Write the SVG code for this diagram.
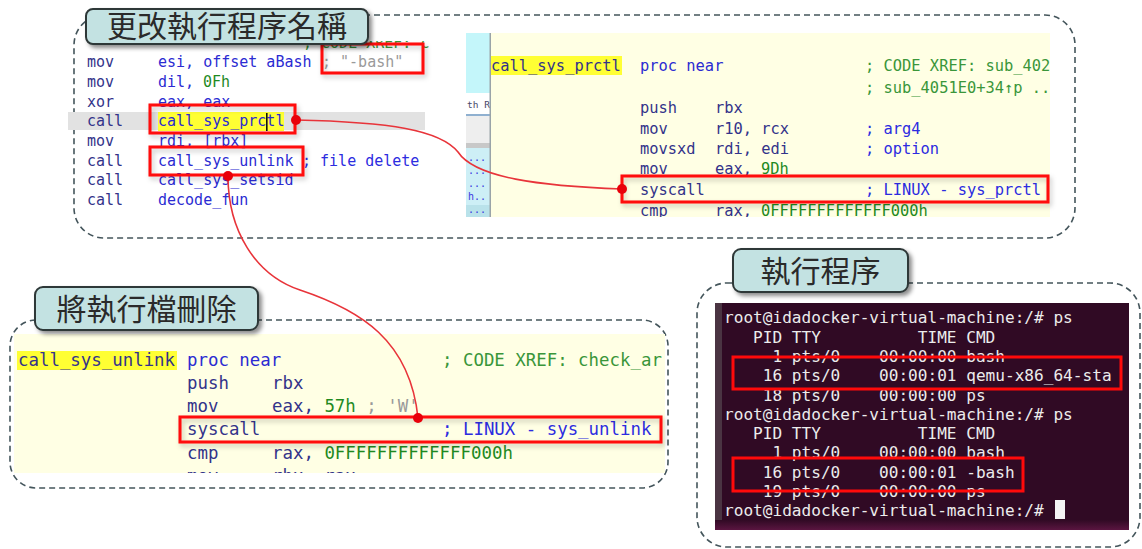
<svg xmlns="http://www.w3.org/2000/svg" width="1142" height="549" viewBox="0 0 1142 549">
  <defs>
    <style>
      .frame{fill:none;stroke:#44555b;stroke-width:1.6;stroke-dasharray:6 4}
      .title-box{fill:#c3e2e2;stroke:#2e3838;stroke-width:2}
      .title{font-family:"Noto Sans CJK TC","Noto Sans CJK SC",sans-serif;font-size:30px;fill:#2a2a2a;text-anchor:middle}
      .code{font-family:"DejaVu Sans Mono","Liberation Mono",monospace}
      .s15{font-size:15px}
      .s154{font-size:15.4px}
      .s174{font-size:17.4px}
      .ins{fill:#33338a}
      .op{fill:#2b2bd2}
      .num{fill:#1f8a1f}
      .cmt{fill:#3a963a}
      .acm{fill:#2c2ce0}
      .str{fill:#9a9a9a}
      .hl{fill:#ffff33}
      .mark{fill:none;stroke:#ff0a0a;stroke-width:3}
      .link{fill:none;stroke:#e8343a;stroke-width:1.6}
      .dot{fill:#e8000a}
      .term{font-family:"DejaVu Sans Mono",monospace;font-size:16.1px;fill:#ececec}
      .tiny{font-family:"DejaVu Sans Mono",monospace;font-size:10px;fill:#3a3ae0}
    </style>
    <filter id="shadow" x="-10%" y="-20%" width="130%" height="160%">
      <feDropShadow dx="3" dy="3" stdDeviation="2" flood-color="#000" flood-opacity="0.45"/>
    </filter>
    <filter id="soft" x="-5%" y="-30%" width="115%" height="180%">
      <feDropShadow dx="2" dy="3" stdDeviation="2.5" flood-color="#000" flood-opacity="0.22"/>
    </filter>
    <clipPath id="clip-caller"><rect x="60" y="41" width="380" height="178"/></clipPath>
    <clipPath id="clip-prctl"><rect x="466" y="33" width="584" height="184"/></clipPath>
    <clipPath id="clip-unlink"><rect x="14" y="334" width="651" height="139"/></clipPath>
    <linearGradient id="term-foot" x1="0" y1="0" x2="0" y2="1">
      <stop offset="0" stop-color="#300a24"/>
      <stop offset="1" stop-color="#5a1540"/>
    </linearGradient>
  </defs>

  <!-- dashed group frames -->
  <g id="frames">
    <rect class="frame" x="74" y="15" width="1001" height="223" rx="30"/>
    <rect class="frame" x="10" y="320" width="658" height="168" rx="26"/>
    <rect class="frame" x="697" y="283" width="443" height="264" rx="30"/>
  </g>

  <!-- caller listing -->
  <g id="caller-listing" class="code s15">
    <rect x="68" y="112" width="357" height="18" fill="#e2e2e2"/>
    <rect class="hl" x="158" y="112" width="126" height="19"/>
    <g clip-path="url(#clip-caller)">
      <text x="303" y="48" class="cmt">; CODE XREF: c</text>
      <text y="67"><tspan x="87" class="ins">mov</tspan><tspan x="158" class="op">esi, offset aBash</tspan><tspan x="322" class="str">; "-bash"</tspan></text>
      <text y="87"><tspan x="87" class="ins">mov</tspan><tspan x="158" class="op">dil,</tspan><tspan x="203" class="num">0Fh</tspan></text>
      <text y="106.5"><tspan x="87" class="ins">xor</tspan><tspan x="158" class="op">eax, eax</tspan></text>
      <text y="126"><tspan x="87" class="ins">call</tspan><tspan x="158" class="op">call_sys_prctl</tspan></text>
      <text y="146"><tspan x="87" class="ins">mov</tspan><tspan x="158" class="op">rdi, [rbx]</tspan></text>
      <text y="165.5"><tspan x="87" class="ins">call</tspan><tspan x="158" class="op">call_sys_unlink</tspan><tspan x="302" class="acm">; file delete</tspan></text>
      <text y="185"><tspan x="87" class="ins">call</tspan><tspan x="158" class="op">call_sys_setsid</tspan></text>
      <text y="205"><tspan x="87" class="ins">call</tspan><tspan x="158" class="op">decode_fun</tspan></text>
    </g>
    <rect x="266" y="113" width="1.6" height="18" fill="#111"/>
    <g filter="url(#soft)">
      <rect class="mark" x="322" y="44" width="101" height="29"/>
      <rect class="mark" x="150" y="105" width="145" height="28"/>
      <rect class="mark" x="150" y="147" width="153" height="28"/>
    </g>
  </g>

  <!-- call_sys_prctl listing -->
  <g id="prctl-listing" class="code s154">
    <g clip-path="url(#clip-prctl)">
      <rect x="490" y="33" width="560" height="184" fill="#ffffe4"/>
      <rect x="466" y="33" width="24" height="60" fill="#c4f6fa"/>
      <rect x="466" y="93" width="24" height="21" fill="#ffffff"/>
      <text x="467" y="108" font-family="DejaVu Sans Mono,monospace" font-size="9.5" fill="#4a4a6a">th R</text>
      <rect x="466" y="114" width="24" height="2" fill="#8fb0d0"/>
      <rect x="466" y="116" width="24" height="27" fill="#eeeeee"/>
      <rect x="466" y="143" width="24" height="5" fill="#c8c8c8"/>
      <rect x="466" y="148" width="24" height="57" fill="#cdeff6"/>
      <rect x="466" y="205" width="24" height="12" fill="#b9e2ea"/>
      <text class="tiny" x="468" y="161">...</text>
      <text class="tiny" x="468" y="174">...</text>
      <text class="tiny" x="468" y="187">...</text>
      <text class="tiny" x="468" y="200">h..</text>
      <text class="tiny" x="468" y="213">...</text>
      <rect x="489.5" y="33" width="1.5" height="184" fill="#9aa4a8"/>
      <rect class="hl" x="491" y="56" width="131" height="19"/>
      <text y="70.5"><tspan x="491" class="ins">call_sys_prctl</tspan><tspan x="640" class="op">proc near</tspan><tspan x="865" class="cmt">; CODE XREF: sub_402</tspan></text>
      <text y="92.5" x="865" class="cmt">; sub_4051E0+34↑p ..</text>
      <text y="112.5"><tspan x="640" class="ins">push</tspan><tspan x="715" class="ins">rbx</tspan></text>
      <text y="133.5"><tspan x="640" class="ins">mov</tspan><tspan x="715" class="ins">r10, rcx</tspan><tspan x="865" class="acm">; arg4</tspan></text>
      <text y="153.5"><tspan x="640" class="ins">movsxd</tspan><tspan x="715" class="ins">rdi, edi</tspan><tspan x="865" class="acm">; option</tspan></text>
      <text y="173.5"><tspan x="640" class="ins">mov</tspan><tspan x="715" class="ins">eax,</tspan><tspan x="761" class="num">9Dh</tspan></text>
      <text y="194.5"><tspan x="640" class="ins">syscall</tspan><tspan x="865" class="acm">; LINUX - sys_prctl</tspan></text>
      <text y="215.5"><tspan x="640" class="ins">cmp</tspan><tspan x="715" class="ins">rax,</tspan><tspan x="761" class="num">0FFFFFFFFFFFFF000h</tspan></text>
    </g>
    <rect class="mark" x="622" y="176" width="426" height="26" filter="url(#soft)"/>
  </g>

  <!-- call_sys_unlink listing -->
  <g id="unlink-listing" class="code s174">
    <g clip-path="url(#clip-unlink)">
      <rect x="14" y="334" width="651" height="139" fill="#ffffe4"/>
      <rect class="hl" x="17" y="351" width="160" height="19"/>
      <text y="366"><tspan x="18" class="ins">call_sys_unlink</tspan><tspan x="187" class="op">proc near</tspan><tspan x="442" class="cmt">; CODE XREF: check_ar</tspan></text>
      <text y="389"><tspan x="187" class="ins">push</tspan><tspan x="272" class="ins">rbx</tspan></text>
      <text y="412"><tspan x="187" class="ins">mov</tspan><tspan x="272" class="ins">eax,</tspan><tspan x="324.4" class="num">57h</tspan><tspan x="366.3" class="str">; 'W'</tspan></text>
      <text y="435"><tspan x="187" class="ins">syscall</tspan><tspan x="442" class="acm">; LINUX - sys_unlink</tspan></text>
      <text y="459"><tspan x="187" class="ins">cmp</tspan><tspan x="272" class="ins">rax,</tspan><tspan x="324.4" class="num">0FFFFFFFFFFFFF000h</tspan></text>
      <text y="482"><tspan x="187" class="ins">mov</tspan><tspan x="272" class="ins">rbx, rax</tspan></text>
    </g>
    <rect class="mark" x="180" y="417" width="481" height="25" filter="url(#soft)"/>
  </g>

  <!-- terminal with ps output -->
  <g id="terminal">
    <rect x="715" y="303" width="414" height="227" fill="#300a24"/>
    <rect x="715" y="303" width="7" height="227" fill="#4a3442"/>
    <rect x="715" y="520" width="414" height="10" fill="url(#term-foot)"/>
    <g class="term">
      <text x="724" y="323" xml:space="preserve">root@idadocker-virtual-machine:/# ps</text>
      <text x="724" y="342.5" xml:space="preserve">   PID TTY          TIME CMD</text>
      <text x="724" y="362" xml:space="preserve">     1 pts/0    00:00:00 bash</text>
      <text x="724" y="381" xml:space="preserve">    16 pts/0    00:00:01 qemu-x86_64-sta</text>
      <text x="724" y="400.5" xml:space="preserve">    18 pts/0    00:00:00 ps</text>
      <text x="724" y="420" xml:space="preserve">root@idadocker-virtual-machine:/# ps</text>
      <text x="724" y="439" xml:space="preserve">   PID TTY          TIME CMD</text>
      <text x="724" y="458" xml:space="preserve">     1 pts/0    00:00:00 bash</text>
      <text x="724" y="477.5" xml:space="preserve">    16 pts/0    00:00:01 -bash</text>
      <text x="724" y="497" xml:space="preserve">    19 pts/0    00:00:00 ps</text>
      <text x="724" y="516" xml:space="preserve">root@idadocker-virtual-machine:/# </text>
    </g>
    <rect x="1055" y="500" width="10" height="19" fill="#f4f4f4"/>
    <rect class="mark" x="733" y="357" width="388" height="32"/>
    <rect class="mark" x="733" y="458" width="290" height="33"/>
  </g>

  <!-- section titles -->
  <g id="title-rename">
    <rect class="title-box" x="86" y="9" width="282" height="35" rx="7" filter="url(#shadow)"/>
    <text class="title" x="227" y="37">更改執行程序名稱</text>
  </g>
  <g id="title-delete">
    <rect class="title-box" x="35" y="287" width="223" height="43" rx="8" filter="url(#shadow)"/>
    <text class="title" x="146.5" y="319.5">將執行檔刪除</text>
  </g>
  <g id="title-exec">
    <rect class="title-box" x="733" y="249" width="175" height="43" rx="8" filter="url(#shadow)"/>
    <text class="title" x="820.5" y="281.5">執行程序</text>
  </g>

  <!-- connectors -->
  <g id="connectors">
    <path class="link" d="M296,120 C390,122 440,130 458,152 C475,178 540,186 622,189"/>
    <path class="link" d="M228,176 C228,230 255,275 300,290 C360,310 410,340 418,418"/>
    <circle class="dot" cx="296" cy="120" r="5"/>
    <circle class="dot" cx="622" cy="189" r="5"/>
    <circle class="dot" cx="228" cy="176" r="5"/>
    <circle class="dot" cx="418" cy="418" r="5"/>
  </g>
</svg>
